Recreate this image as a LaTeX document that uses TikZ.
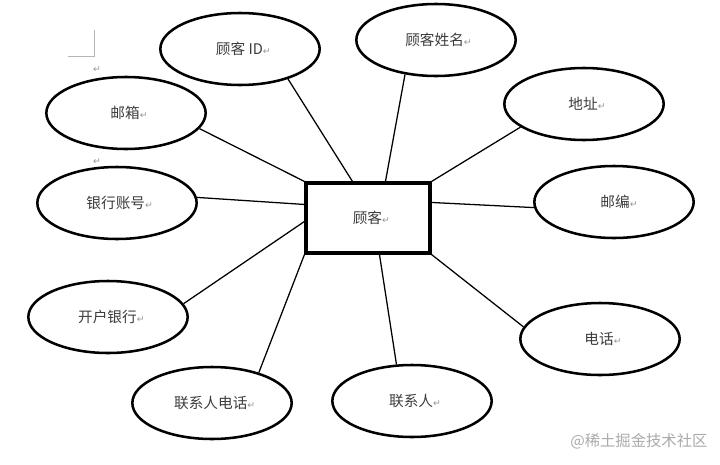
\documentclass[tikz,border=0pt]{standalone}
\usepackage{fontspec}
\setmainfont{Noto Sans CJK SC}
\newfontfamily\retfont{DejaVu Sans}
\usetikzlibrary{shapes.geometric,calc}
\definecolor{inkc}{RGB}{60,60,60}
\definecolor{markc}{RGB}{150,150,150}
\definecolor{wmc}{RGB}{170,170,170}
\newcommand{\ret}{{\retfont\fontsize{7}{8}\selectfont\textcolor{markc}{↵}}}
\newcommand{\lbl}[2]{\raisebox{-0.75pt}{\hspace*{#1pt}#2\ret}}
\tikzset{
  x=0.75pt,y=-0.75pt,
  attr/.style={ellipse,draw=black,line width=1.9pt,minimum width=119.5pt,minimum height=54pt,inner sep=0pt,text=inkc,font=\fontsize{11}{12}\selectfont},
  entity/.style={rectangle,draw=black,line width=2.3pt,minimum width=93pt,minimum height=52.5pt,inner sep=0pt,text=inkc,font=\fontsize{11}{12}\selectfont},
  link/.style={draw=black,line width=0.95pt},
  pilcrow/.style={inner sep=0pt},
  cropmark/.style={draw=markc!70,line width=0.6pt},
  watermark/.style={inner sep=0pt,text=wmc,anchor=west,font=\fontsize{11.5}{13}\selectfont}
}
\begin{document}
\begin{tikzpicture}
\useasboundingbox (0,0) rectangle (720,464);
\node[entity] (cust) at (368,218) {\lbl{5}{顾客}};
\node[attr] (id) at (240,49) {\lbl{5}{顾客 ID}};
\node[attr] (name) at (436,40) {\lbl{3.75}{顾客姓名}};
\node[attr] (addr) at (584,104) {\lbl{4.5}{地址}};
\node[attr] (zip) at (614,202) {\lbl{7.5}{邮编}};
\node[attr] (tel) at (600,339) {\lbl{4.5}{电话}};
\node[attr] (contact) at (412,401) {\lbl{4.5}{联系人}};
\node[attr] (ctel) at (212,403) {\lbl{4}{联系人电话}};
\node[attr] (bank) at (108,317) {\lbl{5}{开户银行}};
\node[attr] (acct) at (117,203) {\lbl{4}{银行账号}};
\node[attr] (mail) at (126,113) {\lbl{4.5}{邮箱}};
% attachment points on the entity's border
\coordinate (cN1) at ($(cust.north west)+(48,0)$);
\coordinate (cN2) at ($(cust.north west)+(81,0)$);
\coordinate (cE1) at ($(cust.north east)+(0,21)$);
\coordinate (cS1) at ($(cust.south west)+(75,0)$);
\coordinate (cW1) at ($(cust.north west)+(0,23)$);
\coordinate (cW2) at ($(cust.north west)+(0,40)$);
\draw[link] (id.-32) -- (cN1);
\draw[link] (name.-132) -- (cN2);
\draw[link] (addr.-160) -- (cust.north east);
\draw[link] (zip.-176) -- (cE1);
\draw[link] (tel.171) -- (cust.south east);
\draw[link] (contact.113) -- (cS1);
\draw[link] (ctel.33) -- (cust.south west);
\draw[link] (bank.10) -- (cW2);
\draw[link] (acct.4) -- (cW1);
\draw[link] (mail.-12) -- (cust.north west);
\coordinate (m1) at (68,56);
\coordinate (m2) at (94,56);
\coordinate (m3) at (94,30);
\draw[cropmark] (m1) -- (m2) -- (m3);
\node[pilcrow] (r1) at (97,70) {\ret};
\node[pilcrow] (r2) at (97,162) {\ret};
\node[watermark] (wm) at (570,441) {@稀土掘金技术社区};
\end{tikzpicture}
\end{document}
